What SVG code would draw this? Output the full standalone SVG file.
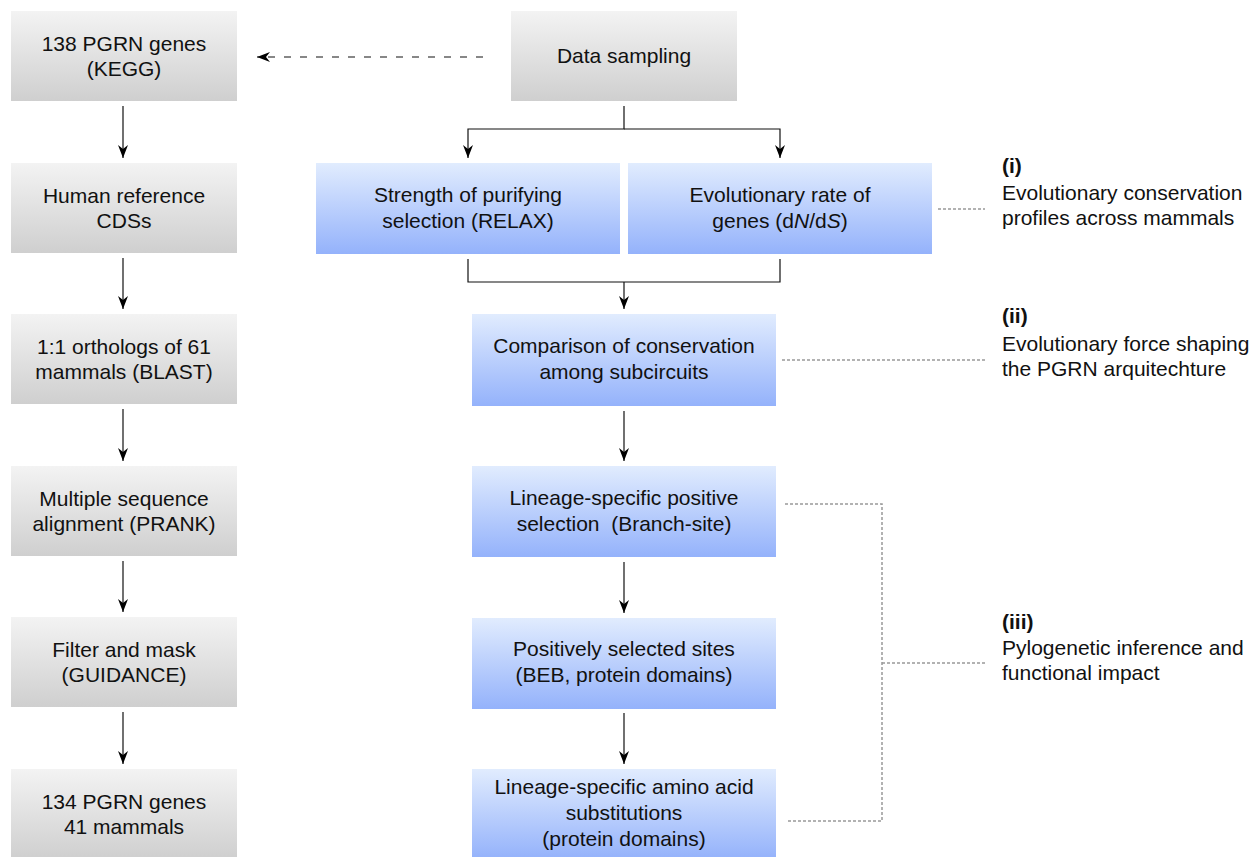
<svg xmlns="http://www.w3.org/2000/svg" width="1257" height="857" viewBox="0 0 1257 857">
<defs>
<linearGradient id="gGray" x1="0" y1="0" x2="0" y2="1">
<stop offset="0" stop-color="#f3f3f3"/><stop offset="1" stop-color="#cfcfcf"/>
</linearGradient>
<linearGradient id="gBlue" x1="0" y1="0" x2="0" y2="1">
<stop offset="0" stop-color="#e1ecfe"/><stop offset="1" stop-color="#94b2fb"/>
</linearGradient>
<marker id="arr" viewBox="0 0 13 10" refX="13" refY="5" markerWidth="13" markerHeight="10" markerUnits="userSpaceOnUse" orient="auto">
<path d="M0,0 L13,5 L0,10 L4,5 Z" fill="#000"/>
</marker>
<style>
.gray{fill:url(#gGray);}
.blue{fill:url(#gBlue);}
text{font-family:"Liberation Sans",Arial,sans-serif;font-size:21px;fill:#111;}
.c{text-anchor:middle;}
.b{font-weight:bold;}
.conn{fill:none;stroke:#111;stroke-width:1.2;}
.dash{fill:none;stroke:#111;stroke-width:1.2;stroke-dasharray:7,9;}
.dot{fill:none;stroke:#999;stroke-width:1.5;stroke-dasharray:3,2;}
</style>
</defs>
<rect width="1257" height="857" fill="#fff"/>

<g id="connectors">
<path class="conn" d="M123,106 V158" marker-end="url(#arr)"/>
<path class="conn" d="M123,258 V309" marker-end="url(#arr)"/>
<path class="conn" d="M123,409 V461" marker-end="url(#arr)"/>
<path class="conn" d="M123,561 V612" marker-end="url(#arr)"/>
<path class="conn" d="M123,712 V764" marker-end="url(#arr)"/>
<path class="dash" d="M483,57 H257" marker-end="url(#arr)"/>
<path class="conn" d="M624,106 V129 H468 V158" marker-end="url(#arr)"/>
<path class="conn" d="M624,129 H780 V158" marker-end="url(#arr)"/>
<path class="conn" d="M468,259 V282 H780 V259"/>
<path class="conn" d="M624,282 V309" marker-end="url(#arr)"/>
<path class="conn" d="M624,411 V461" marker-end="url(#arr)"/>
<path class="conn" d="M624,562 V613" marker-end="url(#arr)"/>
<path class="conn" d="M624,713 V764" marker-end="url(#arr)"/>
<path class="dot" d="M938,209 H985"/>
<path class="dot" d="M782,360 H985"/>
<path class="dot" d="M785,504 H882 V821 H786"/>
<path class="dot" d="M882,663 H985"/>
</g>

<g id="n-kegg"><rect class="gray" x="11" y="11" width="226" height="90"/>
<text class="c" x="124" y="51">138 PGRN genes</text><text class="c" x="124" y="76">(KEGG)</text></g>
<g id="n-human"><rect class="gray" x="11" y="163" width="226" height="90"/>
<text class="c" x="124" y="203">Human reference</text><text class="c" x="124" y="228">CDSs</text></g>
<g id="n-orthologs"><rect class="gray" x="11" y="314" width="226" height="90"/>
<text class="c" x="124" y="354">1:1 orthologs of 61</text><text class="c" x="124" y="379">mammals (BLAST)</text></g>
<g id="n-msa"><rect class="gray" x="11" y="466" width="226" height="90"/>
<text class="c" x="124" y="506">Multiple sequence</text><text class="c" x="124" y="531">alignment (PRANK)</text></g>
<g id="n-filter"><rect class="gray" x="11" y="617" width="226" height="90"/>
<text class="c" x="124" y="657">Filter and mask</text><text class="c" x="124" y="682">(GUIDANCE)</text></g>
<g id="n-final"><rect class="gray" x="11" y="769" width="226" height="90"/>
<text class="c" x="124" y="809">134 PGRN genes</text><text class="c" x="124" y="834">41 mammals</text></g>

<g id="n-sampling"><rect class="gray" x="511" y="11" width="226" height="90"/>
<text class="c" x="624" y="63">Data sampling</text></g>

<g id="n-relax"><rect class="blue" x="316" y="163" width="304" height="91"/>
<text class="c" x="468" y="202">Strength of purifying</text><text class="c" x="468" y="228">selection (RELAX)</text></g>
<g id="n-dnds"><rect class="blue" x="628" y="163" width="304" height="91"/>
<text class="c" x="780" y="202">Evolutionary rate of</text><text class="c" x="780" y="228">genes (d<tspan font-style="italic">N</tspan>/d<tspan font-style="italic">S</tspan>)</text></g>
<g id="n-compare"><rect class="blue" x="472" y="314" width="304" height="92"/>
<text class="c" x="624" y="353">Comparison of conservation</text><text class="c" x="624" y="379">among subcircuits</text></g>
<g id="n-branchsite"><rect class="blue" x="472" y="466" width="304" height="91"/>
<text class="c" x="624" y="505">Lineage-specific positive</text><text class="c" x="624" y="531" xml:space="preserve">selection  (Branch-site)</text></g>
<g id="n-beb"><rect class="blue" x="472" y="618" width="304" height="91"/>
<text class="c" x="624" y="656">Positively selected sites</text><text class="c" x="624" y="682">(BEB, protein domains)</text></g>
<g id="n-subst"><rect class="blue" x="472" y="769" width="304" height="90"/>
<text class="c" x="624" y="794">Lineage-specific amino acid</text><text class="c" x="624" y="820">substitutions</text><text class="c" x="624" y="846">(protein domains)</text></g>

<g id="label-i"><text class="b" x="1002" y="173">(i)</text>
<text x="1002" y="200">Evolutionary conservation</text><text x="1002" y="225">profiles across mammals</text></g>
<g id="label-ii"><text class="b" x="1002" y="323">(ii)</text>
<text x="1002" y="351">Evolutionary force shaping</text><text x="1002" y="376">the PGRN arquitechture</text></g>
<g id="label-iii"><text class="b" x="1002" y="629">(iii)</text>
<text x="1002" y="655">Pylogenetic inference and</text><text x="1002" y="680">functional impact</text></g>
</svg>
